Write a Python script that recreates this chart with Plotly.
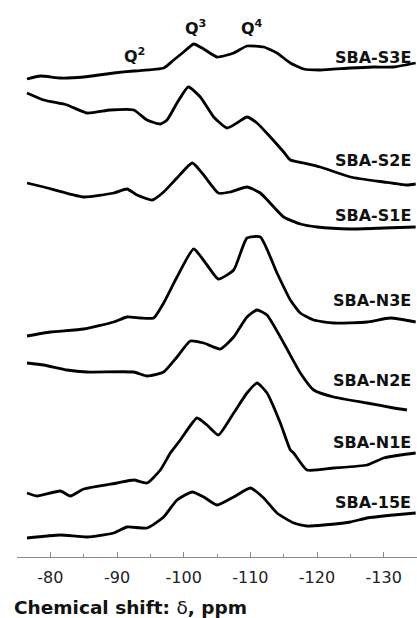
import plotly.graph_objects as go

# Chemical shift (ppm) and stacked intensity (a.u.) for each sample
ppm_s3e = [-76.5, -78.5, -81.5, -85, -89.5, -92.5, -97, -98.5, -100, -101.5, -103, -105, -107.5, -109.5, -112, -114, -116, -118, -120.5, -125, -128.5, -131.5, -134.8]
int_s3e = [478, 481, 479, 480, 484, 486, 489, 497, 505, 513, 508, 500, 504, 511, 510, 504, 494, 488, 487, 489, 490, 490, 494]

ppm_s2e = [-76.5, -79, -82.5, -85.5, -89, -92.5, -94.5, -96.5, -97.5, -99, -100.7, -102.5, -104.5, -106.5, -108, -109.5, -111, -113, -115, -116, -118, -120.5, -125, -130, -133.5, -134.8]
int_s2e = [464, 457, 452, 444, 447, 447, 437, 433, 437, 454, 470, 460, 440, 429, 434, 440, 434, 420, 405, 397, 394, 390, 380, 375, 372, 373]

ppm_s1e = [-76.5, -79, -85, -89.5, -91.5, -93, -95.3, -97, -99, -101.3, -103, -105.2, -107, -109.5, -111.5, -115, -117.5, -120, -125, -130, -134.8]
int_s1e = [374, 370, 360, 364, 368, 362, 357, 365, 379, 394, 382, 364, 365, 370, 364, 340, 333, 330, 328, 329, 330]

ppm_n3e = [-76.5, -80, -85, -89.5, -91.5, -93.5, -95.5, -97, -99, -101.5, -103.5, -105.2, -107.5, -109.5, -111.5, -114, -116, -117.5, -119.5, -122.5, -127.5, -131, -134.8]
int_n3e = [221, 225, 228, 235, 240, 239, 239, 254, 280, 308, 292, 278, 287, 319, 320, 284, 257, 244, 237, 234, 235, 239, 235]

ppm_n2e = [-76.5, -79, -82.5, -85.5, -92.5, -94.5, -97, -99, -101, -103, -105.5, -107.5, -109.5, -111, -112.5, -115, -117.5, -119.5, -122.5, -127.5, -131.5, -133.5]
int_n2e = [194, 192, 187, 185, 185, 181, 185, 200, 216, 214, 208, 220, 240, 247, 242, 214, 184, 167, 160, 154, 149, 147]

ppm_n1e = [-76.5, -78, -81.5, -83, -85, -90, -92.5, -94.5, -96.5, -98, -99.5, -102, -103.5, -105.2, -107.5, -109.5, -111, -112.5, -114.5, -116, -116.5, -118.5, -122.5, -127.5, -130, -132.5, -134.8]
int_n1e = [64, 61, 66, 61, 68, 74, 77, 74, 87, 104, 117, 139, 132, 122, 144, 164, 174, 164, 134, 107, 104, 87, 89, 92, 99, 102, 104]

ppm_15e = [-76.5, -81.5, -85.5, -89.5, -91.5, -94.5, -97, -99, -101.3, -103, -105, -107.5, -110, -112, -114, -116.5, -118.5, -121, -125, -127.5, -131.5, -134.8]
int_15e = [19, 22, 20, 24, 30, 29, 40, 57, 65, 60, 52, 60, 69, 59, 44, 34, 31, 32, 35, 39, 42, 44]

sample_names = ["SBA-S3E", "SBA-S2E", "SBA-S1E", "SBA-N3E", "SBA-N2E", "SBA-N1E", "SBA-15E"]
label_heights = [500, 397, 342, 257, 177, 115, 55]

peak_names = ["Q<sup>2</sup>", "Q<sup>3</sup>", "Q<sup>4</sup>"]
peak_ppm = [-92.6, -101.8, -110.3]
peak_heights = [502, 530, 530]

tick_vals = [-80, -90, -100, -110, -120, -130]
tick_text = ["-80", "-90", "-100", "-110", "-120", "-130"]

series = [
    (ppm_s3e, int_s3e), (ppm_s2e, int_s2e), (ppm_s1e, int_s1e),
    (ppm_n3e, int_n3e), (ppm_n2e, int_n2e), (ppm_n1e, int_n1e), (ppm_15e, int_15e),
]

fig = go.Figure()
for name, (xs, ys) in zip(sample_names, series):
    fig.add_trace(go.Scatter(
        x=xs, y=ys, mode="lines", name=name,
        line=dict(color="black", width=2.8, shape="spline", smoothing=0.5),
        showlegend=False,
    ))

font_lbl = "DejaVu Sans, Arial, sans-serif"
for name, h in zip(sample_names, label_heights):
    fig.add_annotation(x=-134.45, y=h, text="<b>" + name + "</b>", showarrow=False,
                       xanchor="right", yanchor="middle",
                       font=dict(family=font_lbl, size=16, color="#111"))

for name, p, h in zip(peak_names, peak_ppm, peak_heights):
    fig.add_annotation(x=p, y=h, text="<b>" + name + "</b>", showarrow=False,
                       xanchor="center", yanchor="middle",
                       font=dict(family=font_lbl, size=16, color="#111"))

fig.add_annotation(xref="paper", yref="paper", x=-0.012, y=-0.09,
                   text="<b>Chemical shift: </b>δ<b>, ppm</b>", showarrow=False,
                   xanchor="left", yanchor="middle",
                   font=dict(family=font_lbl, size=18.5, color="#111"))

fig.update_layout(
    width=417, height=618, autosize=False,
    margin=dict(l=17, r=0, t=0, b=61),
    paper_bgcolor="white", plot_bgcolor="white",
    xaxis=dict(
        range=[-75, -135], showgrid=False, zeroline=False,
        showline=True, linecolor="#888", linewidth=1,
        tickmode="array", tickvals=tick_vals, ticktext=tick_text,
        ticks="inside", ticklen=5, tickcolor="#888", tickwidth=1,
        ticklabelstandoff=6,
        tickfont=dict(family=font_lbl, size=16, color="#222"),
        minor=dict(ticks="inside", ticklen=3, tickcolor="#888", dtick=5, tick0=-75, showgrid=False),
    ),
    yaxis=dict(range=[0, 557], visible=False, showgrid=False, zeroline=False),
)

fig.write_html("out.html")
